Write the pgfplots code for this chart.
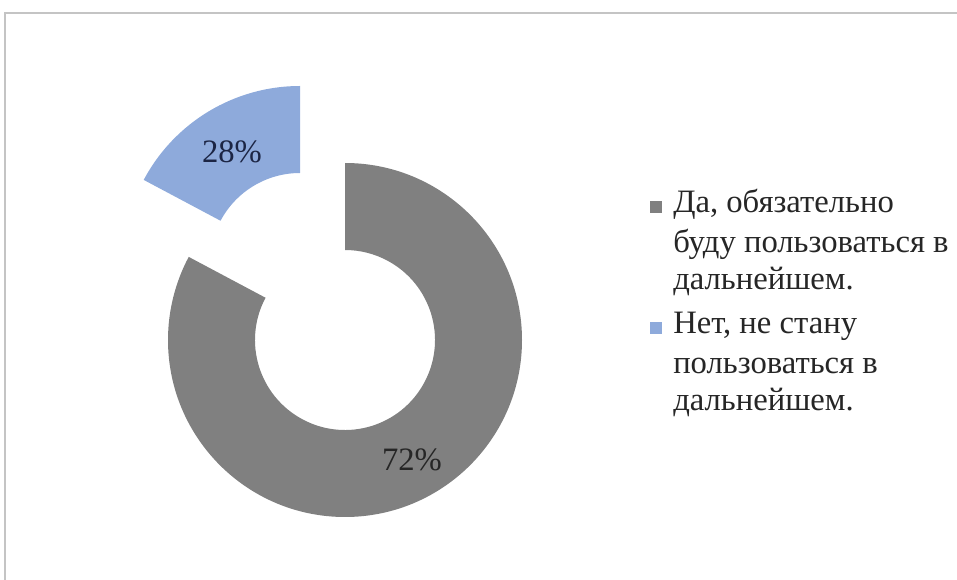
\documentclass[border=0pt]{standalone}
\usepackage{pgfplots}
\pgfplotsset{compat=1.18}
\usepackage{pgfplotstable}
\usepackage{fontspec}
\setmainfont{Liberation Serif}
\definecolor{segGray}{HTML}{808080}
\definecolor{segBlue}{HTML}{8EAADB}
\definecolor{frameGray}{HTML}{C4C4C4}
\definecolor{lblNavy}{HTML}{1C2544}
% values shown on the chart (percent)
\pgfplotstableread{
label value
Yes 72
No 28
}\datatable
\begin{document}
\begin{tikzpicture}
\begin{axis}[
  width=717.75bp, height=435bp, scale only axis,
  xmin=0, xmax=957, ymin=0, ymax=580,
  hide axis, clip=false,
]
\path[use as bounding box] (axis cs:0,0) rectangle (axis cs:957,580);
% chart frame
\draw[frameGray, line width=1.5bp] (axis cs:5,0) -- (axis cs:5,567) -- (axis cs:957,567);
% gray segment (72%)
\fill[segGray] (axis cs:345,417) arc[start angle=90, end angle=-208, radius={177*0.75bp}]
  -- ++(332:{87*0.75bp}) arc[start angle=-208, end angle=90, radius={90*0.75bp}] -- cycle;
% blue exploded segment (28%)
\fill[segBlue] (axis cs:300,494) arc[start angle=90, end angle=152, radius={177*0.75bp}]
  -- ++(332:{87*0.75bp}) arc[start angle=152, end angle=90, radius={90*0.75bp}] -- cycle;
% data labels
\pgfplotstablegetelem{0}{value}\of\datatable \let\valA\pgfplotsretval
\pgfplotstablegetelem{1}{value}\of\datatable \let\valB\pgfplotsretval
\node[font=\fontsize{24.5bp}{29bp}\selectfont, text=black!85] at (axis cs:412,120) {\valA\%};
\node[font=\fontsize{24.5bp}{29bp}\selectfont, text=lblNavy] at (axis cs:232,428) {\valB\%};
% legend
\fill[segGray] (axis cs:650,367) rectangle (axis cs:662,379);
\fill[segBlue] (axis cs:650,246) rectangle (axis cs:662,258);
\begin{scope}[every node/.style={anchor=base west, inner sep=0pt, font=\fontsize{24.5bp}{29bp}\selectfont, text=black!85}]
\node at (axis cs:673,367) {Да, обязательно};
\node at (axis cs:673,327) {буду пользоваться в};
\node at (axis cs:673,290) {дальнейшем.};
\node at (axis cs:673,246) {Нет, не стану};
\node at (axis cs:673,206) {пользоваться в};
\node at (axis cs:673,169) {дальнейшем.};
\end{scope}
\end{axis}
\end{tikzpicture}
\end{document}
